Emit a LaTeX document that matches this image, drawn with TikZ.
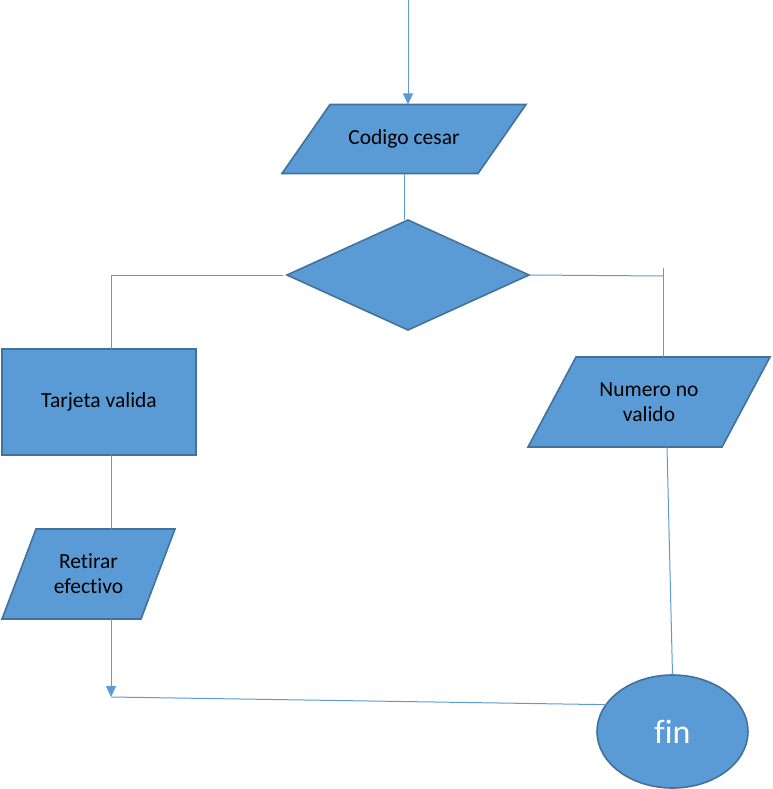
\documentclass[tikz,border=0pt]{standalone}
\usepackage{fontspec}
\setmainfont{Carlito}[Ligatures=NoCommon]
\usetikzlibrary{shapes.geometric,arrows.meta,backgrounds}
\definecolor{boxfill}{HTML}{5B9BD5}
\definecolor{boxline}{HTML}{41719C}
\definecolor{connc}{HTML}{5B9BD5}
\newcommand\paralshape[2]{%
  \begin{pgfonlayer}{background}
    \draw[shpline] ([xshift=#2]#1.north west) -- (#1.north east)
      -- ([xshift=-#2]#1.south east) -- (#1.south west) -- cycle;
  \end{pgfonlayer}}
\begin{document}
\begin{tikzpicture}[x=1pt,y=-1pt,
  shpline/.style={draw=boxline, fill=boxfill, line width=1.6pt, line join=miter},
  txt/.style={inner sep=0pt, outer sep=0pt, font=\fontsize{21.5}{25}\selectfont,
    align=center, text=black},
  shp/.style={txt, shpline},
  conn/.style={draw=connc, line width=1pt},
  arr/.style={conn, -{Triangle[width=10pt,length=11pt]}}]
\useasboundingbox (0,0) rectangle (772,789);
% shapes
\node[txt, minimum width=244pt, minimum height=69pt] (cod) at (404,139) {Codigo cesar};
\paralshape{cod}{48pt}
\node[shp, diamond, minimum width=242pt, minimum height=110pt] (dia) at (408,275) {};
\node[shp, rectangle, minimum width=194pt, minimum height=106pt] (tar) at (99,402) {Tarjeta valida};
\node[txt, minimum width=173pt, minimum height=90pt] (ret) at (88.5,574) {Retirar\\efectivo};
\paralshape{ret}{34pt}
\node[txt, minimum width=242pt, minimum height=90pt] (num) at (649,402) {Numero no\\valido};
\paralshape{num}{48pt}
\node[shp, ellipse, minimum width=151pt, minimum height=113pt, text=white,
  font=\fontsize{34}{40}\selectfont] (fin) at (672.5,731.5) {fin};
% connectors
\coordinate (top) at (408,0);
\draw[arr] (top) -- (top |- cod.north);
\draw[conn] (cod.south) -- (cod.south |- dia.north);
\coordinate (lb) at (111,275);
\draw[conn] ([xshift=-4pt]dia.west) -| (lb |- tar.north);
\coordinate (rb) at (663,276);
\coordinate (rtop) at (663,268);
\draw[conn] (dia.east) -- (rb);
\draw[conn] (rtop) -- (rtop |- num.north);
\coordinate (nb) at (667,447);
\draw[conn] (nb |- num.south) -- (fin.north);
\draw[conn] (lb |- tar.south) -- (lb |- ret.north);
\coordinate (la) at (111,697);
\draw[arr] (lb |- ret.south) -- (la);
\draw[conn] (la) -- (fin.158);
\end{tikzpicture}
\end{document}
